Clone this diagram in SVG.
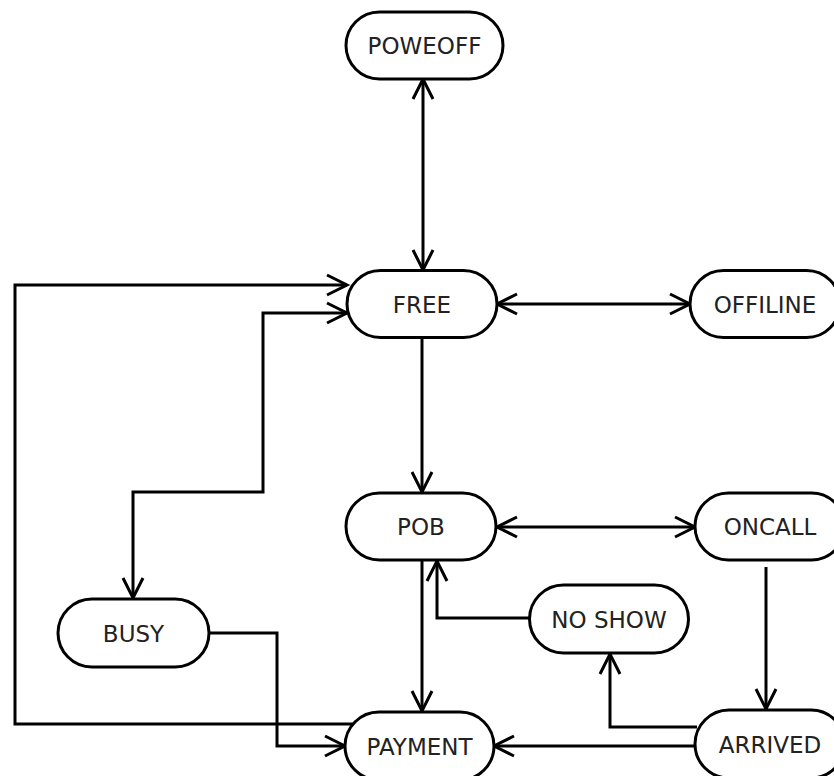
<svg xmlns="http://www.w3.org/2000/svg" width="834" height="776" viewBox="0 0 834 776">
  <style>
    .node rect { fill: #ffffff; stroke: #000000; stroke-width: 3; }
    .node text { font-family: "DejaVu Sans", "Liberation Sans", sans-serif; font-size: 23px; fill: #222222; text-anchor: middle; }
    .conn path { fill: none; stroke: #000000; stroke-width: 3; }
  </style>
  <defs>
    <marker id="arr" markerUnits="userSpaceOnUse" viewBox="-24 -14 28 28" markerWidth="28" markerHeight="28" refX="0" refY="0" orient="auto-start-reverse">
      <path d="M-20,-10 L0,0 L-20,10" fill="none" stroke="#000000" stroke-width="3"/>
    </marker>
  </defs>
  <rect width="834" height="776" fill="#ffffff"/>
  <g id="connectors" class="conn">
    <path d="M423,79 L423,270" marker-start="url(#arr)" marker-end="url(#arr)"/>
    <path d="M497,304 L690,304" marker-start="url(#arr)" marker-end="url(#arr)"/>
    <path d="M422,338 L422,492" marker-end="url(#arr)"/>
    <path d="M354,724 L15,724 L15,285 L347,285" marker-end="url(#arr)"/>
    <path d="M347,313 L263,313 L263,492 L133,492 L133,598" marker-start="url(#arr)" marker-end="url(#arr)"/>
    <path d="M209,633 L277,633 L277,746 L345,746" marker-end="url(#arr)"/>
    <path d="M422,560 L422,711" marker-end="url(#arr)"/>
    <path d="M529,618 L437,618 L437,561" marker-end="url(#arr)"/>
    <path d="M497,527 L695,527" marker-start="url(#arr)" marker-end="url(#arr)"/>
    <path d="M766,567 L766,709" marker-end="url(#arr)"/>
    <path d="M697,727 L610,727 L610,654" marker-end="url(#arr)"/>
    <path d="M695,746 L494,746" marker-end="url(#arr)"/>
  </g>
  <g id="node-poweoff" class="node">
    <rect x="346" y="12" width="157" height="67" rx="33.5"/>
    <text x="424.5" y="54">POWEOFF</text>
  </g>
  <g id="node-free" class="node">
    <rect x="347" y="270.5" width="150" height="67" rx="33.5"/>
    <text x="422" y="312.5">FREE</text>
  </g>
  <g id="node-offline" class="node">
    <rect x="690" y="270.5" width="150" height="67" rx="33.5"/>
    <text x="765" y="312.5">OFFILINE</text>
  </g>
  <g id="node-pob" class="node">
    <rect x="346" y="493" width="150" height="67" rx="33.5"/>
    <text x="421" y="535">POB</text>
  </g>
  <g id="node-oncall" class="node">
    <rect x="695" y="493" width="150" height="67" rx="33.5"/>
    <text x="770" y="535">ONCALL</text>
  </g>
  <g id="node-noshow" class="node">
    <rect x="529.5" y="585" width="159" height="68" rx="34"/>
    <text x="609" y="627.5">NO SHOW</text>
  </g>
  <g id="node-busy" class="node">
    <rect x="58" y="599" width="151" height="68" rx="34"/>
    <text x="133.5" y="641.5">BUSY</text>
  </g>
  <g id="node-payment" class="node">
    <rect x="345" y="712" width="149" height="68" rx="34"/>
    <text x="419.5" y="754.5">PAYMENT</text>
  </g>
  <g id="node-arrived" class="node">
    <rect x="695" y="710" width="150" height="68" rx="34"/>
    <text x="770" y="752.5">ARRIVED</text>
  </g>
</svg>
